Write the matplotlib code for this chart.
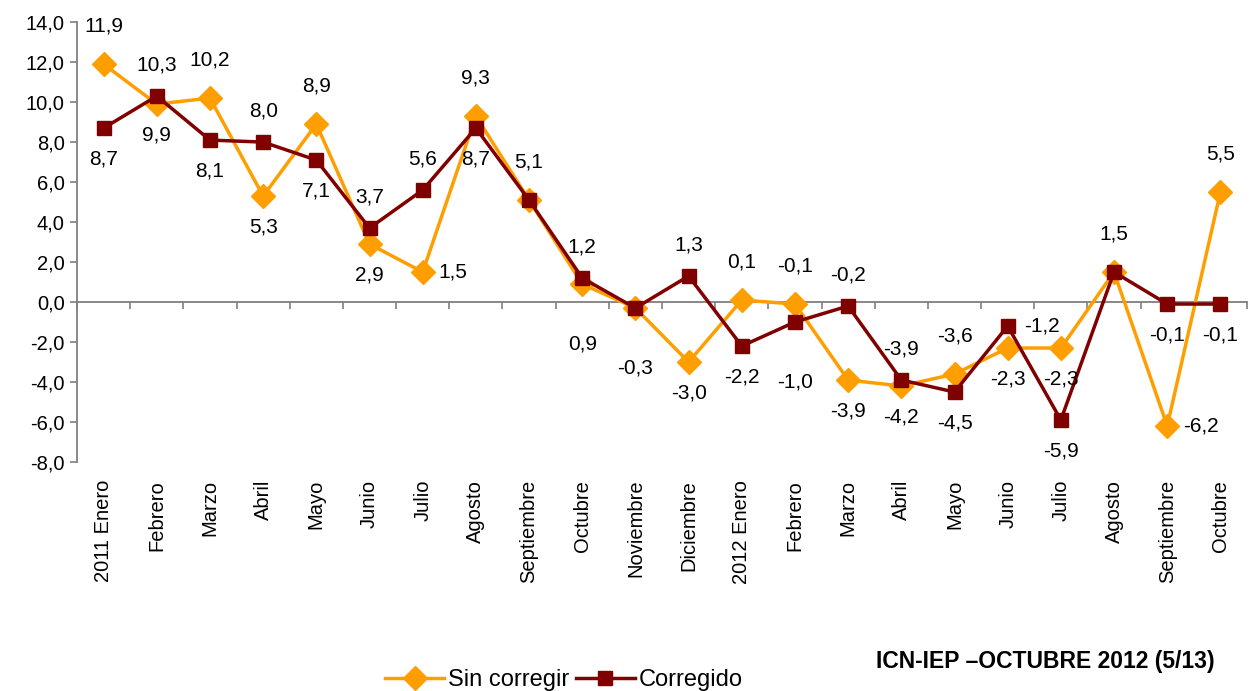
import numpy as np
import matplotlib.pyplot as plt
from matplotlib.ticker import FuncFormatter

meses = ["2011 Enero", "Febrero", "Marzo", "Abril", "Mayo", "Junio", "Julio",
         "Agosto", "Septiembre", "Octubre", "Noviembre", "Diciembre",
         "2012 Enero", "Febrero", "Marzo", "Abril", "Mayo", "Junio", "Julio",
         "Agosto", "Septiembre", "Octubre"]

sin_corregir = [11.9, 9.9, 10.2, 5.3, 8.9, 2.9, 1.5, 9.3, 5.1, 0.9, -0.3, -3.0,
                0.1, -0.1, -3.9, -4.2, -3.6, -2.3, -2.3, 1.5, -6.2, 5.5]
corregido = [8.7, 10.3, 8.1, 8.0, 7.1, 3.7, 5.6, 8.7, 5.1, 1.2, -0.3, 1.3,
             -2.2, -1.0, -0.2, -3.9, -4.5, -1.2, -5.9, 1.5, -0.1, -0.1]

# where each value label sits: a=above, b=below, bb=far below, r=right, n=none
pos_sin = ["a", "b", "a", "b", "a", "b", "r", "a", "a", "bb", "bb", "b",
           "a", "a", "b", "b", "a", "b", "b", "a", "r", "a"]
pos_cor = ["b", "a", "b", "a", "b", "a", "a", "b", "n", "a", "n", "a",
           "b", "bb", "a", "a", "b", "r", "b", "n", "b", "b"]

NARANJA = "#FF9E00"
GRANATE = "#800000"
GRIS = "#7f7f7f"

plt.rcParams['font.family'] = ['Liberation Sans', 'DejaVu Sans']

fig = plt.figure(figsize=(12.5, 6.91), dpi=100)
ax = fig.add_axes([0.0616, 0.3314, 0.936, 0.6366])

x = np.arange(len(meses))
ax.plot(x, sin_corregir, color=NARANJA, lw=2.5, marker="D", ms=12,
        label="Sin corregir", zorder=3)
ax.plot(x, corregido, color=GRANATE, lw=2.5, marker="s", ms=10.5,
        label="Corregido", zorder=4)

offs = {"a": (0, 37, "center", "center"),
        "b": (0, -31, "center", "center"),
        "bb": (0, -60, "center", "center"),
        "r": (16, 0, "left", "center")}


def etiquetas(vals, posiciones, ajuste_a):
    for i, (v, p) in enumerate(zip(vals, posiciones)):
        if p == "n":
            continue
        dx, dy, ha, va = offs[p]
        if p == "a":
            dy = ajuste_a
        txt = ("%.1f" % v).replace(".", ",")
        ax.annotate(txt, (i, v), xytext=(dx, dy), textcoords="offset pixels",
                    ha=ha, va=va, fontsize=15, color="black", zorder=5)


etiquetas(sin_corregir, pos_sin, 38)
etiquetas(corregido, pos_cor, 31)

ax.set_xlim(-0.5, len(meses) - 0.5)
ax.set_ylim(-8, 14)
ax.set_yticks(np.arange(-8, 15, 2))
ax.yaxis.set_major_formatter(FuncFormatter(lambda v, p: ("%.1f" % v).replace(".", ",")))

for s in ["top", "right"]:
    ax.spines[s].set_visible(False)
ax.spines["left"].set_color(GRIS)
ax.spines["left"].set_linewidth(1.3)
ax.spines["bottom"].set_position(("data", 0))
ax.spines["bottom"].set_color(GRIS)
ax.spines["bottom"].set_linewidth(1.3)

ax.tick_params(axis="y", direction="out", length=5, width=1.2, color=GRIS,
               labelsize=14.5, pad=4)
ax.set_xticks(x)
ax.set_xticklabels(meses, rotation=90, fontsize=14.5, va="top", ha="center")
ax.tick_params(axis="x", which="major", length=0, pad=128)
ax.set_xticks(np.arange(-0.5, len(meses), 1), minor=True)
ax.tick_params(axis="x", which="minor", direction="out", length=5, width=1.2,
               color=GRIS)

fig.legend(loc="center", bbox_to_anchor=(0.451, 0.016), ncol=2, frameon=False,
           fontsize=17, handlelength=2.5, handletextpad=0.15, columnspacing=0.3,
           borderpad=0)

fig.text(0.972, 0.042, "ICN-IEP \u2013OCTUBRE 2012 (5/13)", ha="right", va="center",
         fontsize=16.5, fontweight="bold",
         family=["Liberation Sans Narrow", "Liberation Sans"])

fig.savefig("out.png", dpi=100)
